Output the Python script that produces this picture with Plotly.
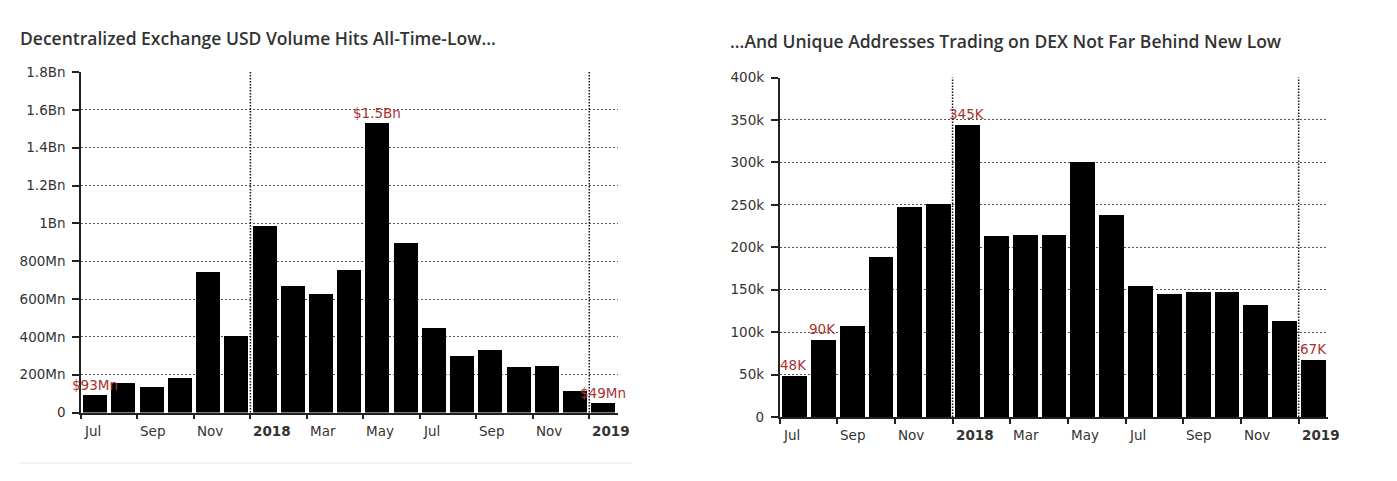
import plotly.graph_objects as go

# ---------------- data ----------------
months = ["Jul 2017", "Aug 2017", "Sep 2017", "Oct 2017", "Nov 2017", "Dec 2017",
          "Jan 2018", "Feb 2018", "Mar 2018", "Apr 2018", "May 2018", "Jun 2018",
          "Jul 2018", "Aug 2018", "Sep 2018", "Oct 2018", "Nov 2018", "Dec 2018",
          "Jan 2019"]
dex_volume_usd = [93e6, 155e6, 136e6, 180e6, 743e6, 404e6,
                  985e6, 671e6, 625e6, 755e6, 1.53e9, 895e6,
                  445e6, 300e6, 328e6, 240e6, 247e6, 115e6, 49e6]
unique_addresses = [49000, 91700, 107800, 189600, 248000, 251000,
                    345000, 214000, 215000, 215600, 301000, 239000,
                    155000, 146000, 147500, 147500, 133000, 113700, 68000]

x_tick_index = [0, 2, 4, 6, 8, 10, 12, 14, 16, 18]
x_tick_labels = ["Jul", "Sep", "Nov", "<b>2018</b>", "Mar", "May", "Jul", "Sep", "Nov", "<b>2019</b>"]
year_index = [6, 18]

vol_tickvals = [0, 2e8, 4e8, 6e8, 8e8, 1e9, 1.2e9, 1.4e9, 1.6e9, 1.8e9]
vol_ticktext = ["0", "200Mn", "400Mn", "600Mn", "800Mn", "1Bn", "1.2Bn", "1.4Bn", "1.6Bn", "1.8Bn"]
addr_tickvals = [0, 50000, 100000, 150000, 200000, 250000, 300000, 350000, 400000]
addr_ticktext = ["0", "50k", "100k", "150k", "200k", "250k", "300k", "350k", "400k"]

vol_callouts = {0: "$93Mn", 10: "$1.5Bn", 18: "$49Mn"}
addr_callouts = {0: "48K", 1: "90K", 6: "345K", 18: "67K"}

title_left = "Decentralized Exchange USD Volume Hits All-Time-Low..."
title_right = "...And Unique Addresses Trading on DEX Not Far Behind New Low"

# ---------------- layout constants ----------------
W, H = 1397, 481
FONT = "DejaVu Sans"
TXT = "#333333"
RED = "#a83232"

def px_x(p):
    return p / W

def px_y(p):
    return 1 - p / H

xpos = [i + 0.5 for i in range(len(months))]

fig = go.Figure()
fig.add_trace(go.Bar(x=xpos, y=dex_volume_usd, width=0.85, marker=dict(color="black", line=dict(width=0)),
                     xaxis="x", yaxis="y", hovertext=months, showlegend=False))
fig.add_trace(go.Bar(x=xpos, y=unique_addresses, width=0.86, marker=dict(color="black", line=dict(width=0)),
                     xaxis="x2", yaxis="y2", hovertext=months, showlegend=False))

axis_common_y = dict(showline=True, linecolor="#222", linewidth=1.5, ticks="outside", ticklen=7,
                     tickwidth=1.5, tickcolor="#222", showgrid=True, gridcolor="#555", griddash="2px,2px",
                     gridwidth=1, zeroline=False, tickfont=dict(family=FONT, size=13.5, color=TXT),
                     ticklabelstandoff=4, automargin=False)
axis_common_x = dict(range=[0, 19], tickvals=x_tick_index, showticklabels=False, ticks="outside", ticklen=5,
                     tickwidth=1.5, tickcolor="#222", showline=True, linecolor="#222", linewidth=1.5,
                     showgrid=False, zeroline=False, automargin=False)

fig.update_layout(
    width=W, height=H, autosize=False,
    margin=dict(l=0, r=0, t=0, b=0, pad=0, autoexpand=False),
    paper_bgcolor="white", plot_bgcolor="white",
    showlegend=False,
    bargap=0,
    xaxis=dict(domain=[px_x(81), px_x(617.5)], anchor="y", **axis_common_x),
    yaxis=dict(domain=[px_y(412.5), px_y(72)], anchor="x", range=[0, 1.8e9],
               tickvals=vol_tickvals, ticktext=vol_ticktext, **axis_common_y),
    xaxis2=dict(domain=[px_x(779.5), px_x(1327.5)], anchor="y2", **axis_common_x),
    yaxis2=dict(domain=[px_y(417), px_y(77.5)], anchor="x2", range=[0, 400000],
                tickvals=addr_tickvals, ticktext=addr_ticktext, **axis_common_y),
)

shapes = []
for xr, yr in (("x", "y domain"), ("x2", "y2 domain")):
    for yi in year_index:
        shapes.append(dict(type="line", xref=xr, yref=yr, x0=yi, x1=yi, y0=0, y1=1,
                           line=dict(color="#111", width=1.5, dash="1.5px,1.5px"), layer="above"))
shapes.append(dict(type="line", xref="paper", yref="paper", x0=px_x(19), x1=px_x(632),
                   y0=px_y(463), y1=px_y(463), line=dict(color="#e6e6e6", width=1)))

annotations = []
# titles
annotations.append(dict(text=title_left, xref="paper", yref="paper", x=px_x(18), y=px_y(38),
                        xanchor="left", yanchor="middle", showarrow=False,
                        font=dict(family="Open Sans", size=17.5, color=TXT, weight=600)))
annotations.append(dict(text=title_right, xref="paper", yref="paper", x=px_x(728), y=px_y(41),
                        xanchor="left", yanchor="middle", showarrow=False,
                        font=dict(family="Open Sans", size=17.5, color=TXT, weight=600)))
# x tick labels
for xr, yr in (("x", "y"), ("x2", "y2")):
    for ti, tl in zip(x_tick_index, x_tick_labels):
        annotations.append(dict(text=tl, xref=xr, yref=yr, x=ti, y=0, xanchor="left", yanchor="middle",
                                xshift=1, yshift=-18, showarrow=False,
                                font=dict(family=FONT, size=13.5, color=TXT)))
# value callouts
for i, t in vol_callouts.items():
    annotations.append(dict(text=t, xref="x", yref="y", x=xpos[i], y=dex_volume_usd[i],
                            xanchor="center", yanchor="bottom", yshift=0, showarrow=False,
                            font=dict(family=FONT, size=13.5, color=RED)))
for i, t in addr_callouts.items():
    annotations.append(dict(text=t, xref="x2", yref="y2", x=xpos[i], y=unique_addresses[i],
                            xanchor="center", yanchor="bottom", yshift=0, showarrow=False,
                            font=dict(family=FONT, size=13.5, color=RED)))

fig.update_layout(shapes=shapes, annotations=annotations)
fig.write_html("out.html")
